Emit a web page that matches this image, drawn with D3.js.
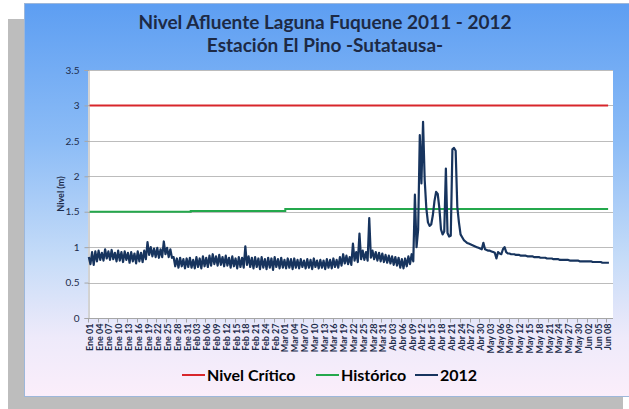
<!DOCTYPE html>
<html><head><meta charset="utf-8">
<script src="https://cdn.jsdelivr.net/npm/d3@7"></script>
<style>
html,body{margin:0;padding:0;background:#fff;}
svg{display:block;}
</style></head>
<body>
<svg id="c" width="629" height="409"></svg>
<script>
// ---------- DATA ----------
const monthNames = ["Ene","Feb","Mar","Abr","May","Jun"];
const monthDays  = [31, 29, 31, 30, 31, 9];   // 2012 categories (last one empty)
const titleLines = ["Nivel Afluente Laguna Fuquene 2011 - 2012", "Estación El Pino -Sutatausa-"];
const yTicks = [0, 0.5, 1, 1.5, 2, 2.5, 3, 3.5];
const nivelCritico = 3.0;
const historicoMensual = [1.50, 1.51, 1.54, 1.54, 1.54, 1.54];
// 2012 readings: two per day (morning, afternoon)
const nivelEne = [
 .86,.76, .93,.75, .94,.80, .95,.82, .92,.81, .97,.84, .94,.82, .96,.83, .92,.80, .95,.81,
 .93,.79, .94,.82, .92,.78, .93,.80, .91,.77, .94,.80, .92,.79, .95,.83, 1.07,.89, 1.00,.87,
 .98,.86, .99,.85, .97,.86, 1.08,.90, .99,.86, .97,.85, .86,.73, .84,.71, .85,.73, .83,.70,
 .84,.72];
const nivelFeb = [
 .85,.71, .82,.70, .86,.72, .84,.70, .87,.73, .85,.72, .88,.74, .90,.76, .87,.74, .89,.75,
 .86,.73, .88,.74, .85,.71, .87,.73, .84,.70, .86,.72, .85,.71, 1.01,.75, .87,.72, .85,.70,
 .86,.72, .84,.69, .86,.71, .83,.69, .85,.71, .84,.68, .86,.72, .83,.70, .85,.71];
const nivelMar = [
 .82,.70, .84,.71, .83,.69, .84,.71, .82,.70, .83,.72, .81,.70, .83,.71, .82,.69, .84,.72,
 .81,.70, .82,.71, .81,.69, .83,.71, .82,.70, .84,.72, .82,.71, .86,.74, .90,.77, .88,.76,
 .86,.75, 1.05,.81, .93,.79, 1.19,.83, .95,.82, .93,.81, 1.41,.85, .95,.83, .93,.81, .92,.80,
 .91,.79];
const nivelAbr = [
 .89,.78, .88,.77, .87,.75, .86,.74, .85,.71, .83,.70, .84,.73, .87,.76, .90,.80, 1.74,1.00,
 1.25,2.58, 1.90,2.77, 1.95,1.55, 1.35,1.30, 1.32,1.45, 1.65,1.78, 1.75,1.55, 1.25,1.18, 1.22,2.11, 1.20,1.15,
 1.16,2.38, 2.40,2.36, 1.57,1.35, 1.18,1.14, 1.10,1.08, 1.06,1.05, 1.04,1.03, 1.02,1.01, 1.00,.99, .98,.97];
const nivelMay = [
 1.06,.97, .96,.95, .95,.94, .93,.92, .84,.93, .91,.90, .97,1.00, .93,.91, .91,.90, .90,.90,
 .89,.89, .89,.88, .88,.88, .88,.87, .87,.87, .87,.86, .86,.86, .86,.85, .85,.85, .85,.84,
 .84,.84, .84,.83, .83,.83, .83,.82, .82,.82, .82,.82, .82,.81, .81,.81, .81,.81, .81,.80,
 .80,.80];
const nivelJun = [
 .80,.80, .80,.80, .80,.79, .79,.79, .79,.79, .79,.78, .78,.78, .78,.78];

// ---------- BUILD ----------
const categories = [];
monthNames.forEach((m,i)=>{ for(let d=1; d<=monthDays[i]; d++) categories.push({m:i, label: m+" "+String(d).padStart(2,"0")}); });
const N = categories.length;
const monthly = [nivelEne, nivelFeb, nivelMar, nivelAbr, nivelMay, nivelJun];
const serie2012 = [];
let off = 0;
monthly.forEach((arr,i)=>{ arr.forEach((v,j)=>{ serie2012.push({x: off + Math.floor(j/2) + (j%2 ? 0.25 : -0.25), v}); }); off += monthDays[i]; });
const lastDay = Math.floor(serie2012[serie2012.length-1].x + 0.5);
const serieHist = d3.range(0, lastDay+1).map(d=>({x:d, v: historicoMensual[categories[d].m]}));
const serieCrit = d3.range(0, lastDay+1).map(d=>({x:d, v: nivelCritico}));

const FONT = "Lato, 'Open Sans', 'Liberation Sans', sans-serif";
const svg = d3.select("#c");
const defs = svg.append("defs");
const g = defs.append("linearGradient").attr("id","bg").attr("x1",0).attr("y1",0).attr("x2",0).attr("y2",1);
g.append("stop").attr("offset","0%").attr("stop-color","#5d9ef2");
g.append("stop").attr("offset","35%").attr("stop-color","#8cbcf6");
g.append("stop").attr("offset","65%").attr("stop-color","#c6dcf8");
g.append("stop").attr("offset","85%").attr("stop-color","#eeeafa");
g.append("stop").attr("offset","100%").attr("stop-color","#fbeefa");

svg.append("rect").attr("x",8).attr("y",19).attr("width",615).attr("height",392).attr("fill","#bdbdbd");
svg.append("rect").attr("x",24.5).attr("y",3.5).attr("width",606).attr("height",393).attr("fill","url(#bg)").attr("stroke","#9db7da");

const L=88, R=613, T=70, B=318;
svg.append("rect").attr("x",L).attr("y",T).attr("width",R-L).attr("height",B-T).attr("fill","#fff");

const x = d3.scaleLinear().domain([-0.5, N-0.5]).range([L, R]);
const y = d3.scaleLinear().domain([0, 3.5]).range([B, T]);

// gridlines
svg.append("g").selectAll("line").data(yTicks.filter(t=>t>0)).join("line")
  .attr("x1",L).attr("x2",R).attr("y1",d=>Math.round(y(d))+0.5).attr("y2",d=>Math.round(y(d))+0.5)
  .attr("stroke","#bcbcbc").attr("stroke-width",1);

// y axis
const ya = svg.append("g").attr("transform",`translate(${L+0.5},0)`)
  .call(d3.axisLeft(y).tickValues(yTicks).tickSize(4).tickPadding(5).tickFormat(d=>String(d)));
ya.select(".domain").attr("stroke","#a6a6a6");
ya.selectAll(".tick line").attr("stroke","#a6a6a6");
ya.selectAll("text").attr("fill","#1c2b4a").style("font-family",FONT).style("font-size","10px");

// x axis
const labelIdx = d3.range(0, N, 3);
const xa = svg.append("g").attr("transform",`translate(0,${B+0.5})`);
xa.append("line").attr("x1",L).attr("x2",R).attr("stroke","#a6a6a6");
xa.selectAll("line.tk").data(labelIdx).join("line").attr("class","tk")
  .attr("x1",d=>Math.round(x(d-0.5))+0.5).attr("x2",d=>Math.round(x(d-0.5))+0.5).attr("y1",0).attr("y2",4).attr("stroke","#a6a6a6");
xa.selectAll("text").data(labelIdx).join("text")
  .attr("transform",d=>`translate(${x(d)+3.2},5) rotate(-90)`)
  .attr("text-anchor","end")
  .style("font-family",FONT).style("font-size","9px").style("font-weight","bold")
  .attr("fill","#1c2b4a").text(d=>categories[d].label);

// y title
svg.append("text").attr("transform",`translate(64,${(T+B)/2}) rotate(-90)`).attr("text-anchor","middle")
  .style("font-family",FONT).style("font-size","9px").style("font-weight","bold")
  .attr("fill","#1c2b4a").text("Nivel (m)");

// lines
const line = d3.line().x(d=>x(d.x)).y(d=>y(d.v));
svg.append("path").datum(serieCrit).attr("d",line).attr("fill","none").attr("stroke","#d8262b").attr("stroke-width",2);
svg.append("path").datum(serieHist).attr("d",d3.line().curve(d3.curveStepAfter).x(d=>x(d.x)).y(d=>y(d.v))).attr("fill","none").attr("stroke","#24a84c").attr("stroke-width",2);
svg.append("path").datum(serie2012).attr("d",line).attr("fill","none").attr("stroke","#17345e").attr("stroke-width",2.2).attr("stroke-linejoin","round");

// title
svg.selectAll("text.title").data(titleLines).join("text").attr("class","title")
  .attr("x",325).attr("y",(d,i)=>29+i*23).attr("text-anchor","middle")
  .style("font-family",FONT).style("font-size","19px").style("font-weight","bold")
  .attr("fill","#1d2a45").text(d=>d);

// legend
const legend = [
  {name:"Nivel Crítico", color:"#d8262b", x:182},
  {name:"Histórico", color:"#24a84c", x:316},
  {name:"2012", color:"#17345e", x:415}
];
const lg = svg.append("g");
legend.forEach(it=>{
  lg.append("line").attr("x1",it.x).attr("x2",it.x+23).attr("y1",375).attr("y2",375).attr("stroke",it.color).attr("stroke-width",2);
  lg.append("text").attr("x",it.x+25).attr("y",381).style("font-family",FONT)
    .style("font-size","16px").style("font-weight","bold").attr("fill","#000").text(it.name);
});
</script>
</body></html>
